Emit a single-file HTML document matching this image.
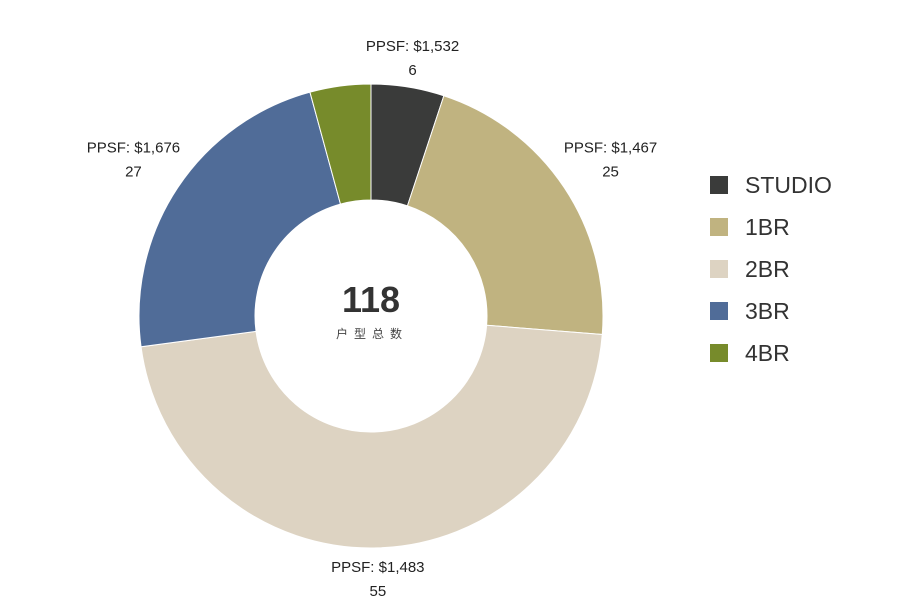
<!DOCTYPE html>
<html><head><meta charset="utf-8"><style>
html,body{margin:0;padding:0;background:#fff;}
svg{display:block;font-family:"Liberation Sans","Noto Sans CJK SC",sans-serif;}
</style></head><body>
<svg id="chart" width="914" height="614">
<g id="slices"></g>
<g id="labels"></g>
<text x="371" y="312" text-anchor="middle" font-size="36" font-weight="bold" fill="#333">118</text>
<text x="372" y="338" text-anchor="middle" font-size="12" letter-spacing="6" fill="#444">户型总数</text>
<g id="legend"></g>
</svg>
<script>
const categories = ["STUDIO","1BR","2BR","3BR","4BR"];
const counts = [6,25,55,27,5];
const ppsf = ["$1,532","$1,467","$1,483","$1,676",null];
const colors = ["#3a3b3a","#c0b380","#ddd3c2","#506c98","#778b2b"];
const NS="http://www.w3.org/2000/svg";
const cx=371, cy=316, R=232, r0=116;
const total=counts.reduce((a,b)=>a+b,0);
const sl=document.getElementById('slices'), lb=document.getElementById('labels'), lg=document.getElementById('legend');
function pt(a,rad){return [cx+rad*Math.sin(a), cy-rad*Math.cos(a)];}
let acc=0;
counts.forEach((v,i)=>{
  const a0=acc/total*2*Math.PI, a1=(acc+v)/total*2*Math.PI; acc+=v;
  const large=(a1-a0)>Math.PI?1:0;
  const p0=pt(a0,R),p1=pt(a1,R),q1=pt(a1,r0),q0=pt(a0,r0);
  const p=document.createElementNS(NS,'path');
  p.setAttribute('d',`M${p0[0]},${p0[1]}A${R},${R} 0 ${large} 1 ${p1[0]},${p1[1]}L${q1[0]},${q1[1]}A${r0},${r0} 0 ${large} 0 ${q0[0]},${q0[1]}Z`);
  p.setAttribute('fill',colors[i]);p.setAttribute('stroke','#fff');p.setAttribute('stroke-width','1');
  
  
  sl.appendChild(p);
  if(ppsf[i]){
    const am=(a0+a1)/2, lr=256+32*Math.abs(Math.sin(am));
    const c=pt(am,lr);
    let cyo=c[1]; if(Math.cos(am)<-0.5) cyo+=6;
    let cxo=c[0]+(Math.sin(am)>0.5?4:(Math.sin(am)<-0.5?-2:0));
    const t=document.createElementNS(NS,'text');
    t.setAttribute('text-anchor','middle');t.setAttribute('font-size','15');t.setAttribute('fill','#222');
    
    
    const s1=document.createElementNS(NS,'tspan');s1.setAttribute('x',cxo);s1.setAttribute('y',cyo-7);s1.textContent='PPSF: '+ppsf[i];
    const s2=document.createElementNS(NS,'tspan');s2.setAttribute('x',cxo);s2.setAttribute('y',cyo+17);s2.textContent=v;
    t.appendChild(s1);t.appendChild(s2);lb.appendChild(t);
  }
});
categories.forEach((c,i)=>{
  const y=185+i*42;
  const g=document.createElementNS(NS,'g');
  
  
  const rc=document.createElementNS(NS,'rect');
  rc.setAttribute('x',710);rc.setAttribute('y',y-9);rc.setAttribute('width',18);rc.setAttribute('height',18);rc.setAttribute('fill',colors[i]);
  const t=document.createElementNS(NS,'text');
  t.setAttribute('x',745);t.setAttribute('y',y+8);t.setAttribute('font-size','23');t.setAttribute('fill','#333');t.textContent=c;
  g.appendChild(rc);g.appendChild(t);lg.appendChild(g);
});
</script>
</body></html>
